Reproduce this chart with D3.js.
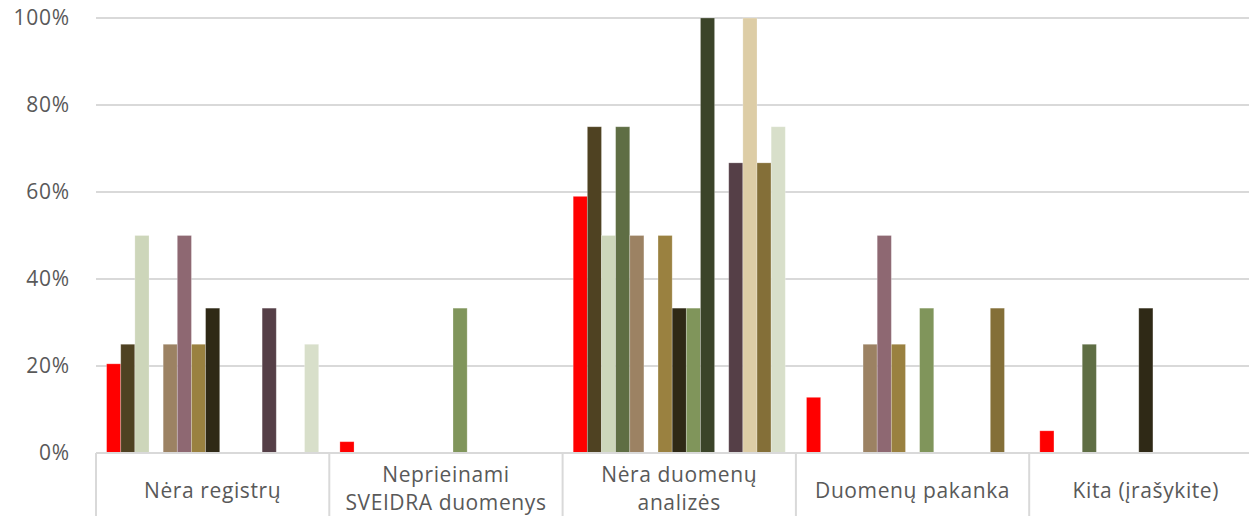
<!DOCTYPE html>
<html>
<head>
<meta charset="utf-8">
<script src="https://cdn.jsdelivr.net/npm/d3@7"></script>
<style>
  html, body { margin: 0; padding: 0; background: #ffffff; }
  svg { display: block; }
  text { font-family: "Open Sans", "Liberation Sans", sans-serif; fill: #595959; }
</style>
</head>
<body>
<svg id="chart" width="1249" height="516"></svg>
<script>
// ---- data ----
const categories = ["Nėra registrų", "Neprieinami SVEIDRA duomenys", "Nėra duomenų analizės", "Duomenų pakanka", "Kita (įrašykite)"];
const yTicks = [0, 0.2, 0.4, 0.6, 0.8, 1.0];

const s1  = [0.205, 0.026, 0.590, 0.128, 0.051];
const s2  = [0.25, null, 0.75, null, null];
const s3  = [0.50, null, 0.50, null, null];
const s4  = [null, null, 0.75, null, 0.25];
const s5  = [0.25, null, 0.50, 0.25, null];
const s6  = [0.50, null, null, 0.50, null];
const s7  = [0.25, null, 0.50, 0.25, null];
const s8  = [0.333, null, 0.333, null, 0.333];
const s9  = [null, 0.333, 0.333, 0.333, null];
const s10 = [null, null, 1.00, null, null];
const s11 = [null, null, null, null, null];
const s12 = [0.333, null, 0.667, null, null];
const s13 = [null, null, 1.00, null, null];
const s14 = [null, null, 0.667, 0.333, null];
const s15 = [0.25, null, 0.75, null, null];

const seriesValues = [s1, s2, s3, s4, s5, s6, s7, s8, s9, s10, s11, s12, s13, s14, s15];
const seriesNames = seriesValues.map((_, i) => "Series " + (i + 1));
const seriesColors = ["#FF0000", "#4F4222", "#CDD6BA", "#5F6E44", "#9C8263", "#8E6872", "#9A8140",
                      "#2F2916", "#80955B", "#3B4429", "#7A6A53", "#553F47", "#DDCDA6", "#846F38", "#D8DFCA"];

// ---- layout ----
const svg = d3.select("#chart");
const plotLeft = 96, plotRight = 1262.5, plotTop = 18, plotBottom = 453;

const x0 = d3.scaleBand().domain(categories).range([plotLeft, plotRight]).paddingInner(0).paddingOuter(0);
const x1 = d3.scaleBand().domain(seriesNames).range([0, x0.bandwidth()]).paddingInner(0).paddingOuter(0.75);
const y = d3.scaleLinear().domain([0, 1]).range([plotBottom, plotTop]);
const color = d3.scaleOrdinal().domain(seriesNames).range(seriesColors);

// gridlines
svg.append("g")
  .selectAll("line")
  .data(yTicks.filter(t => t > 0))
  .join("line")
  .attr("x1", plotLeft).attr("x2", plotRight)
  .attr("y1", d => y(d)).attr("y2", d => y(d))
  .attr("stroke", "#d9d9d9").attr("stroke-width", 2);

// y axis labels
const yAxis = d3.axisLeft(y).tickValues(yTicks).tickFormat(d3.format(".0%")).tickSize(0).tickPadding(26);
const yg = svg.append("g").attr("transform", `translate(${plotLeft},0)`).call(yAxis);
yg.select(".domain").remove();
yg.selectAll("text").attr("font-size", 21).style("letter-spacing", "0.8px")
  .attr("fill", "#595959").attr("font-family", "'Open Sans', 'Liberation Sans', sans-serif");

// bars
const flat = [];
categories.forEach((c, ci) => {
  seriesValues.forEach((arr, si) => {
    const v = arr[ci];
    if (v != null) flat.push({ cat: c, series: seriesNames[si], value: v });
  });
});

svg.append("g")
  .selectAll("rect")
  .data(flat)
  .join("rect")
  .attr("x", d => x0(d.cat) + x1(d.series))
  .attr("width", x1.bandwidth())
  .attr("y", d => y(d.value))
  .attr("height", d => y(0) - y(d.value))
  .attr("fill", d => color(d.series))
  .attr("stroke", "#ffffff").attr("stroke-opacity", 0.3).attr("stroke-width", 0.8);

// x axis baseline and category dividers
const xg = svg.append("g");
xg.append("line")
  .attr("x1", plotLeft).attr("x2", plotRight)
  .attr("y1", plotBottom).attr("y2", plotBottom)
  .attr("stroke", "#d9d9d9").attr("stroke-width", 2);
const dividers = categories.map(c => x0(c)).concat([plotRight]);
xg.selectAll("line.div")
  .data(dividers)
  .join("line")
  .attr("class", "div")
  .attr("x1", d => d).attr("x2", d => d)
  .attr("y1", plotBottom).attr("y2", 530)
  .attr("stroke", "#d9d9d9").attr("stroke-width", 2);

// category labels with wrapping
const labels = xg.selectAll("text.cat")
  .data(categories)
  .join("text")
  .attr("class", "cat")
  .attr("x", d => x0(d) + x0.bandwidth() / 2)
  .attr("text-anchor", "middle")
  .attr("font-size", 21)
  .style("letter-spacing", "0.6px");

labels.each(function(d) {
  const t = d3.select(this);
  const words = d.split(" ");
  const maxW = 208;
  const lines = [];
  let cur = [];
  const probe = t.append("tspan");
  words.forEach(w => {
    const test = cur.concat([w]).join(" ");
    probe.text(test);
    if (probe.node().getComputedTextLength() > maxW && cur.length) {
      lines.push(cur.join(" "));
      cur = [w];
    } else {
      cur.push(w);
    }
  });
  if (cur.length) lines.push(cur.join(" "));
  probe.remove();
  const x = x0(d) + x0.bandwidth() / 2;
  if (lines.length === 1) {
    t.append("tspan").attr("x", x).attr("y", 498).text(lines[0]);
  } else {
    lines.forEach((ln, i) => {
      t.append("tspan").attr("x", x).attr("y", 482 + i * 28).text(ln);
    });
  }
});
</script>
</body>
</html>
